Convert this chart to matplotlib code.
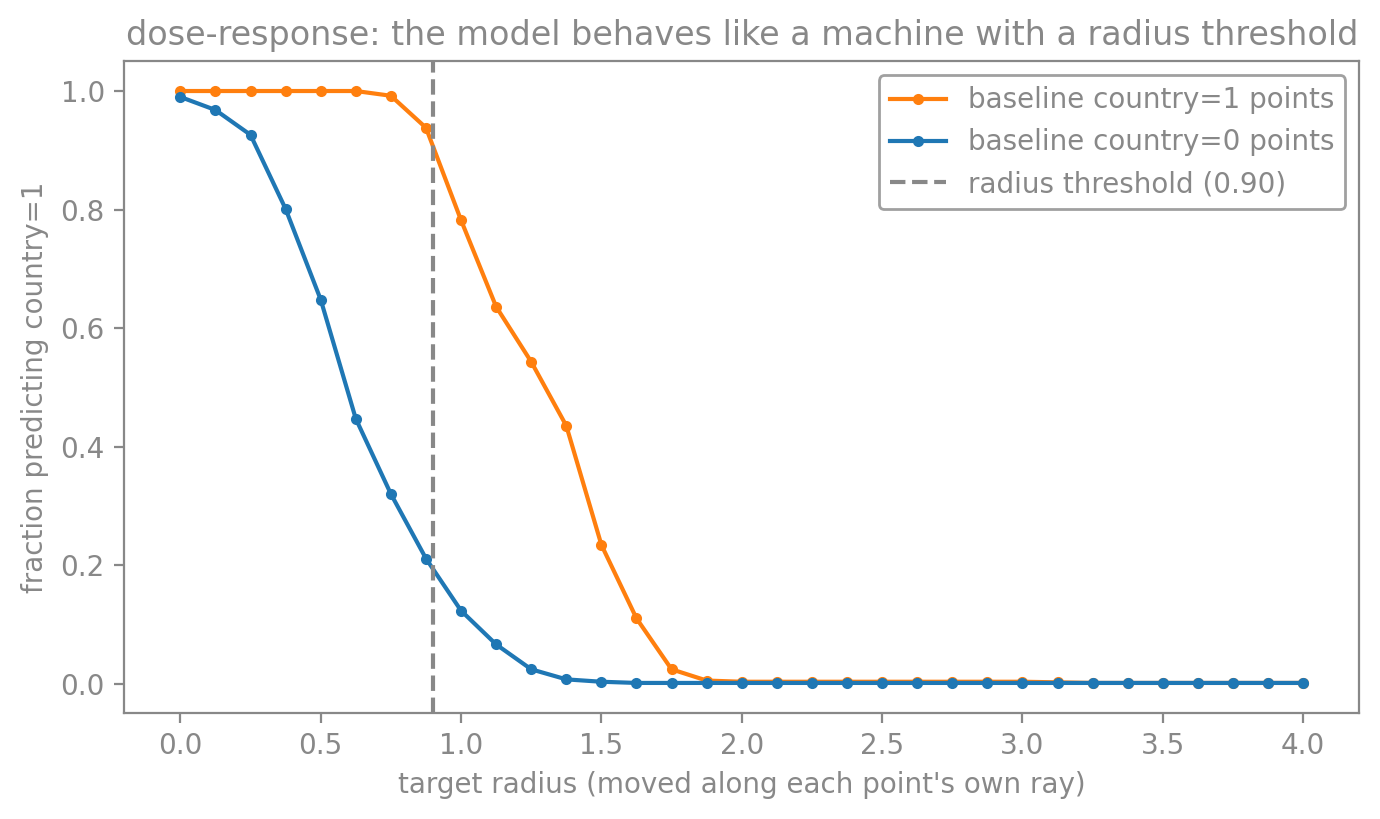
import numpy as np
import matplotlib.pyplot as plt

radius = np.arange(0, 4.0001, 0.125)

frac_country1 = [1.0, 1.0, 1.0, 1.0, 1.0, 1.0, 0.992, 0.938, 0.782, 0.636,
                 0.543, 0.435, 0.234, 0.110, 0.024, 0.005, 0.003, 0.003, 0.003,
                 0.003, 0.003, 0.003, 0.003, 0.003, 0.003, 0.002, 0.001, 0.001,
                 0.001, 0.001, 0.001, 0.001, 0.001]
frac_country0 = [0.990, 0.968, 0.926, 0.801, 0.648, 0.447, 0.320, 0.211, 0.123,
                 0.066, 0.024, 0.007, 0.003, 0.001, 0.001, 0.001, 0.001, 0.001,
                 0.001, 0.001, 0.001, 0.001, 0.001, 0.001, 0.001, 0.001, 0.001,
                 0.001, 0.001, 0.001, 0.001, 0.001, 0.001]
threshold = 0.90

grey = '#888888'
plt.rcParams['text.color'] = grey
plt.rcParams['axes.labelcolor'] = grey
plt.rcParams['xtick.color'] = grey
plt.rcParams['ytick.color'] = grey
plt.rcParams['axes.edgecolor'] = grey

fig, ax = plt.subplots(figsize=(6.9, 4.095), dpi=200)
ax.plot(radius, frac_country1, color='#ff7f0e', marker='o', markersize=3,
        lw=1.5, label='baseline country=1 points')
ax.plot(radius, frac_country0, color='#1f77b4', marker='o', markersize=3,
        lw=1.5, label='baseline country=0 points')
ax.axvline(threshold, color=grey, ls='--', lw=1.5,
           label=f'radius threshold ({threshold:.2f})')

ax.set_xticks(np.arange(0, 4.01, 0.5))
ax.set_xlabel("target radius (moved along each point's own ray)")
ax.set_ylabel('fraction predicting country=1')
ax.set_title('dose-response: the model behaves like a machine with a radius threshold')
leg = ax.legend(loc='upper right', edgecolor=grey)
leg.get_frame().set_linewidth(1.0)
for t in leg.get_texts():
    t.set_color(grey)

fig.subplots_adjust(left=0.09, right=0.985, top=0.925, bottom=0.13)
fig.savefig('out.png', dpi=200)
